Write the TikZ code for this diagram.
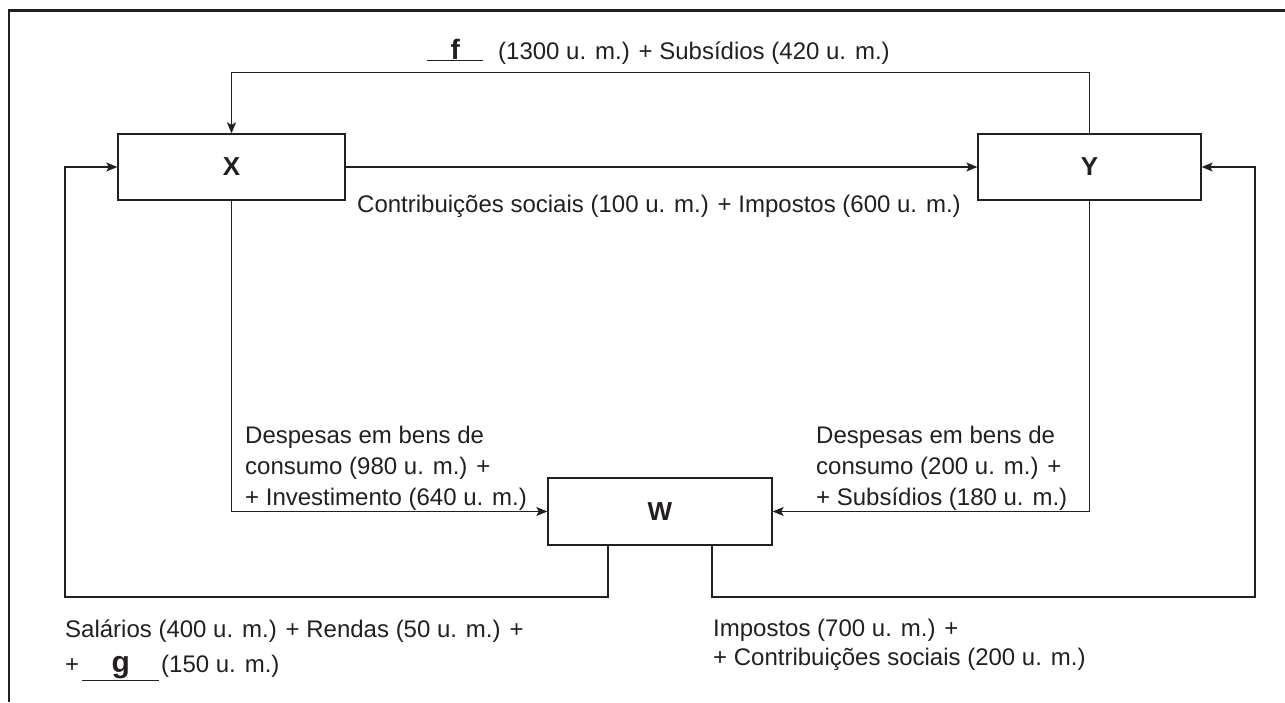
\documentclass[tikz,border=0pt]{standalone}
\usepackage{fontspec}
\setmainfont{Liberation Sans}
\usetikzlibrary{arrows.meta}
\definecolor{ink}{HTML}{231F20}
\begin{document}
\begin{tikzpicture}[x=1pt,y=-1pt,
  font=\fontsize{24}{30}\selectfont, text=ink,
  blk/.style={draw=ink,line width=1.3pt,inner sep=0pt,font=\fontsize{26}{30}\selectfont\bfseries},
  flow/.style={draw=ink,line width=1.3pt,-{Stealth[length=11pt,width=9pt,inset=2.5pt]}},
  lbl/.style={anchor=base west,inner sep=0pt}]
\useasboundingbox (0,0) rectangle (1285,702);
% outer frame
\draw[ink,line width=2.5pt] (9,702) -- (9,10.5) -- (1285,10.5);
% blocks
\node[blk,minimum width=227pt,minimum height=66pt] (X) at (231.5,167) {X};
\node[blk,minimum width=223pt,minimum height=66pt] (Y) at (1089.5,167) {Y};
\node[blk,minimum width=224pt,minimum height=67pt] (W) at (660,511.5) {W};
\coordinate (bl) at (65,597);
\coordinate (br) at (1255,597);
% connectors
\draw[flow] (Y.north) -- ++(0,-61) -| (X.north);
\draw[flow] (X.east) -- (Y.west);
\draw[flow] ([xshift=-52pt]W.south) |- (bl) |- (X.west);
\draw[flow] ([xshift=52pt]W.south) |- (br) |- (Y.east);
\draw[flow] (X.south) |- (W.west);
\draw[flow] (Y.south) |- (W.east);
% labels
\node[lbl] (t1) at (427,59) {\underline{\makebox[56pt]{\fontsize{28}{30}\selectfont\bfseries f}}\hspace{15pt}(1300 u. m.) + Subsídios (420 u. m.)};
\node[lbl] (t2) at (357,212) {Contribuições sociais (100 u. m.) + Impostos (600 u. m.)};
\node[lbl] (d1) at (245,443) {Despesas em bens de};
\node[lbl] (d2) at (245,474) {consumo (980 u. m.) +};
\node[lbl] (d3) at (245,505) {+ Investimento (640 u. m.)};
\node[lbl] (e1) at (816,443) {Despesas em bens de};
\node[lbl] (e2) at (816,474) {consumo (200 u. m.) +};
\node[lbl] (e3) at (816,505) {+ Subsídios (180 u. m.)};
\node[lbl] (s1) at (65,637) {Salários (400 u. m.) + Rendas (50 u. m.) +};
\node[lbl] (s2) at (65,672) {+\hspace{3pt}\underline{\makebox[77pt]{\fontsize{30}{30}\selectfont\bfseries g}}\hspace{2pt}(150 u. m.)};
\node[lbl] (i1) at (713,636) {Impostos (700 u. m.) +};
\node[lbl] (i2) at (713,665) {+ Contribuições sociais (200 u. m.)};
\end{tikzpicture}
\end{document}
